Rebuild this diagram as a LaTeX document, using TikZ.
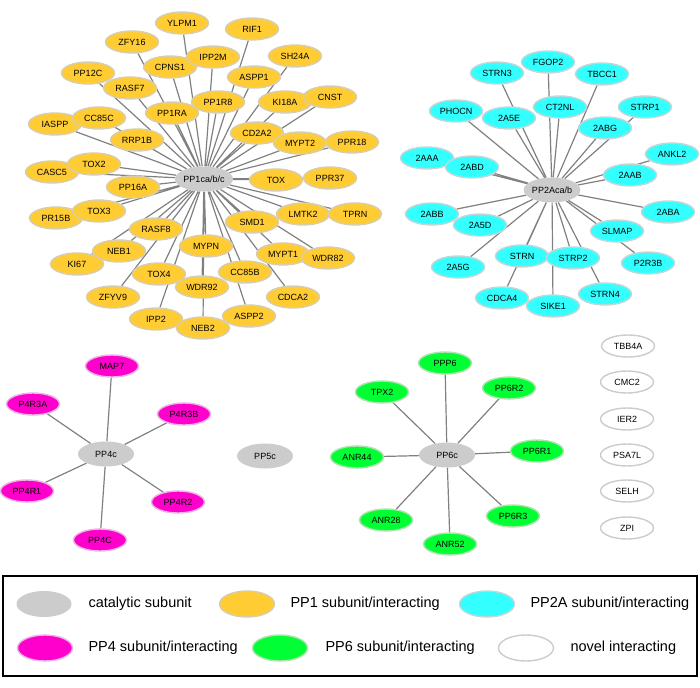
\documentclass[tikz,border=0pt]{standalone}
\usepackage{fontspec}
\setmainfont{Liberation Sans}
\usetikzlibrary{shapes.geometric,backgrounds}

\definecolor{catgray}{RGB}{204,204,204}
\definecolor{oneorange}{RGB}{255,204,51}
\definecolor{oneline}{RGB}{214,206,178}
\definecolor{twocyan}{RGB}{51,255,255}
\definecolor{twoline}{RGB}{196,214,214}
\definecolor{fourpink}{RGB}{255,0,204}
\definecolor{fourline}{RGB}{234,180,228}
\definecolor{sixgreen}{RGB}{0,255,51}
\definecolor{sixline}{RGB}{178,226,178}
\definecolor{novelline}{RGB}{204,204,204}
\definecolor{linkgray}{RGB}{128,128,128}

\tikzset{
  catbox/.style={ellipse, fill=catgray, minimum width=56pt, minimum height=25pt, inner sep=0pt},
  onebox/.style={ellipse, draw=oneline, fill=oneorange, line width=1.4pt, minimum width=53pt, minimum height=22pt, inner sep=0pt},
  twobox/.style={onebox, draw=twoline, fill=twocyan},
  fourbox/.style={onebox, draw=fourline, fill=fourpink},
  sixbox/.style={onebox, draw=sixline, fill=sixgreen},
  novelbox/.style={onebox, draw=novelline, fill=white},
  link/.style={draw=linkgray, line width=1.2pt},
  keytext/.style={anchor=west, font=\fontsize{14.5}{16}\selectfont}
}

\begin{document}
\begin{tikzpicture}[x=1pt, y=-1pt, every node/.style={font=\fontsize{9}{10}\selectfont}]
    \useasboundingbox (0,0) rectangle (700,687);

    % PP1 cluster
    \node[catbox] (pp1cat) at (204,179) {PP1ca/b/c};
    \node[onebox] (ylpm1) at (182,23) {YLPM1};
    \node[onebox] (rif1) at (252,29) {RIF1};
    \node[onebox] (zfy16) at (132,42) {ZFY16};
    \node[onebox] (sh24a) at (295,56) {SH24A};
    \node[onebox] (pp12c) at (88,73) {PP12C};
    \node[onebox] (cpns1) at (170,67) {CPNS1};
    \node[onebox] (ipp2m) at (213,57) {IPP2M};
    \node[onebox] (aspp1) at (254,77) {ASPP1};
    \node[onebox] (rasf7) at (130,88) {RASF7};
    \node[onebox] (pp1ra) at (172,113) {PP1RA};
    \node[onebox] (pp1r8) at (218,102) {PP1R8};
    \node[onebox] (ki18a) at (285,102) {KI18A};
    \node[onebox] (cnst) at (330,97) {CNST};
    \node[onebox] (iaspp) at (55,124) {IASPP};
    \node[onebox] (cc85c) at (99,118) {CC85C};
    \node[onebox] (rrp1b) at (137,140) {RRP1B};
    \node[onebox] (cd2a2) at (257,133) {CD2A2};
    \node[onebox] (mypt2) at (300,143) {MYPT2};
    \node[onebox] (ppr18) at (352,142) {PPR18};
    \node[onebox] (casc5) at (52,172) {CASC5};
    \node[onebox] (tox2) at (94,164) {TOX2};
    \node[onebox] (pp16a) at (133,187) {PP16A};
    \node[onebox] (tox) at (276,180) {TOX};
    \node[onebox] (ppr37) at (330,178) {PPR37};
    \node[onebox] (pr15b) at (56,218) {PR15B};
    \node[onebox] (tox3) at (99,211) {TOX3};
    \node[onebox] (lmtk2) at (303,214) {LMTK2};
    \node[onebox] (tprn) at (355,214) {TPRN};
    \node[onebox] (smd1) at (252,222) {SMD1};
    \node[onebox] (rasf8) at (156,229) {RASF8};
    \node[onebox] (ki67) at (77,264) {KI67};
    \node[onebox] (neb1) at (119,251) {NEB1};
    \node[onebox] (mypn) at (206,246) {MYPN};
    \node[onebox] (mypt1) at (283,254) {MYPT1};
    \node[onebox] (wdr82) at (328,258) {WDR82};
    \node[onebox] (cc85b) at (245,272) {CC85B};
    \node[onebox] (tox4) at (159,274) {TOX4};
    \node[onebox] (wdr92) at (202,287) {WDR92};
    \node[onebox] (cdca2) at (293,297) {CDCA2};
    \node[onebox] (zfyv9) at (113,297) {ZFYV9};
    \node[onebox] (ipp2) at (156,319) {IPP2};
    \node[onebox] (aspp2) at (249,316) {ASPP2};
    \node[onebox] (neb2) at (203,328) {NEB2};

    % PP2A cluster
    \node[catbox] (pp2acat) at (552,190) {PP2Aca/b};
    \node[twobox] (fgop2) at (548,62) {FGOP2};
    \node[twobox] (strn3) at (497,73) {STRN3};
    \node[twobox] (tbcc1) at (602,74) {TBCC1};
    \node[twobox] (phocn) at (456,111) {PHOCN};
    \node[twobox] (n2a5e) at (509,118) {2A5E};
    \node[twobox] (ct2nl) at (560,107) {CT2NL};
    \node[twobox] (strp1) at (645,107) {STRP1};
    \node[twobox] (n2abg) at (605,128) {2ABG};
    \node[twobox] (n2aaa) at (427,158) {2AAA};
    \node[twobox] (n2abd) at (472,167) {2ABD};
    \node[twobox] (ankl2) at (672,154) {ANKL2};
    \node[twobox] (n2aab) at (630,175) {2AAB};
    \node[twobox] (n2abb) at (432,214) {2ABB};
    \node[twobox] (n2a5d) at (480,225) {2A5D};
    \node[twobox] (n2aba) at (668,212) {2ABA};
    \node[twobox] (slmap) at (617,231) {SLMAP};
    \node[twobox] (n2a5g) at (458,267) {2A5G};
    \node[twobox] (strn) at (522,256) {STRN};
    \node[twobox] (strp2) at (573,258) {STRP2};
    \node[twobox] (p2r3b) at (648,263) {P2R3B};
    \node[twobox] (cdca4) at (502,298) {CDCA4};
    \node[twobox] (strn4) at (605,294) {STRN4};
    \node[twobox] (sike1) at (553,306) {SIKE1};

    % PP4 and PP5
    \node[catbox] (pp4cat) at (106,454) {PP4c};
    \node[fourbox] (map7) at (112,366) {MAP7};
    \node[fourbox] (p4r3a) at (33,404) {P4R3A};
    \node[fourbox] (p4r3b) at (184,414) {P4R3B};
    \node[fourbox] (pp4r1) at (27,491) {PP4R1};
    \node[fourbox] (pp4r2) at (178,502) {PP4R2};
    \node[fourbox] (pp4c) at (100,540) {PP4C};
    \node[catbox] (pp5cat) at (265,456) {PP5c};

    % PP6 cluster
    \node[catbox] (pp6cat) at (447,455) {PP6c};
    \node[sixbox] (ppp6) at (445,363) {PPP6};
    \node[sixbox] (tpx2) at (382,392) {TPX2};
    \node[sixbox] (pp6r2) at (509,388) {PP6R2};
    \node[sixbox] (anr44) at (357,457) {ANR44};
    \node[sixbox] (pp6r1) at (537,451) {PP6R1};
    \node[sixbox] (anr28) at (386,520) {ANR28};
    \node[sixbox] (pp6r3) at (513,516) {PP6R3};
    \node[sixbox] (anr52) at (450,544) {ANR52};

    % novel ones, no links
    \node[novelbox] (tbb4a) at (628,346) {TBB4A};
    \node[novelbox] (cmc2) at (627,382) {CMC2};
    \node[novelbox] (ier2) at (627,419) {IER2};
    \node[novelbox] (psa7l) at (627,455) {PSA7L};
    \node[novelbox] (selh) at (627,491) {SELH};
    \node[novelbox] (zpi) at (627,528) {ZPI};

    % links go under the ellipses
    \begin{pgfonlayer}{background}
    \draw[link] (pp1cat) -- (ylpm1) (pp1cat) -- (rif1) (pp1cat) -- (zfy16) (pp1cat) -- (sh24a)
        (pp1cat) -- (pp12c) (pp1cat) -- (cpns1) (pp1cat) -- (ipp2m) (pp1cat) -- (aspp1)
        (pp1cat) -- (rasf7) (pp1cat) -- (pp1ra) (pp1cat) -- (pp1r8) (pp1cat) -- (ki18a)
        (pp1cat) -- (cnst) (pp1cat) -- (iaspp) (pp1cat) -- (cc85c) (pp1cat) -- (rrp1b)
        (pp1cat) -- (cd2a2) (pp1cat) -- (mypt2) (pp1cat) -- (ppr18) (pp1cat) -- (casc5)
        (pp1cat) -- (tox2) (pp1cat) -- (pp16a) (pp1cat) -- (tox) (pp1cat) -- (ppr37)
        (pp1cat) -- (pr15b) (pp1cat) -- (tox3) (pp1cat) -- (lmtk2) (pp1cat) -- (tprn)
        (pp1cat) -- (smd1) (pp1cat) -- (rasf8) (pp1cat) -- (ki67) (pp1cat) -- (neb1)
        (pp1cat) -- (mypn) (pp1cat) -- (mypt1) (pp1cat) -- (wdr82) (pp1cat) -- (cc85b)
        (pp1cat) -- (tox4) (pp1cat) -- (wdr92) (pp1cat) -- (cdca2) (pp1cat) -- (zfyv9)
        (pp1cat) -- (ipp2) (pp1cat) -- (aspp2) (pp1cat) -- (neb2);
    \draw[link] (pp2acat) -- (fgop2) (pp2acat) -- (strn3) (pp2acat) -- (tbcc1) (pp2acat) -- (phocn)
        (pp2acat) -- (n2a5e) (pp2acat) -- (ct2nl) (pp2acat) -- (strp1) (pp2acat) -- (n2abg)
        (pp2acat) -- (n2aaa) (pp2acat) -- (n2abd) (pp2acat) -- (ankl2) (pp2acat) -- (n2aab)
        (pp2acat) -- (n2abb) (pp2acat) -- (n2a5d) (pp2acat) -- (n2aba) (pp2acat) -- (slmap)
        (pp2acat) -- (n2a5g) (pp2acat) -- (strn) (pp2acat) -- (strp2) (pp2acat) -- (p2r3b)
        (pp2acat) -- (cdca4) (pp2acat) -- (strn4) (pp2acat) -- (sike1);
    \draw[link] (pp4cat) -- (map7) (pp4cat) -- (p4r3a) (pp4cat) -- (p4r3b)
        (pp4cat) -- (pp4r1) (pp4cat) -- (pp4r2) (pp4cat) -- (pp4c);
    \draw[link] (pp6cat) -- (ppp6) (pp6cat) -- (tpx2) (pp6cat) -- (pp6r2) (pp6cat) -- (anr44)
        (pp6cat) -- (pp6r1) (pp6cat) -- (anr28) (pp6cat) -- (pp6r3) (pp6cat) -- (anr52);
    \end{pgfonlayer}

    % Legend box
    \draw[line width=1.4pt] (3,576) rectangle (697,676);
    \node[catbox, minimum width=55pt, minimum height=26pt] (keycat) at (44,604) {};
    \node[keytext] (keycattext) at (85,604) {catalytic subunit};
    \node[onebox, minimum width=55pt, minimum height=26pt] (keyone) at (247,604) {};
    \node[keytext] (keyonetext) at (287,604) {PP1 subunit/interacting};
    \node[twobox, minimum width=55pt, minimum height=26pt] (keytwo) at (487,604) {};
    \node[keytext] (keytwotext) at (527,604) {PP2A subunit/interacting};
    \node[fourbox, minimum width=55pt, minimum height=26pt] (keyfour) at (45,648) {};
    \node[keytext] (keyfourtext) at (85,648) {PP4 subunit/interacting};
    \node[sixbox, minimum width=55pt, minimum height=26pt] (keysix) at (280,648) {};
    \node[keytext] (keysixtext) at (322,648) {PP6 subunit/interacting};
    \node[novelbox, minimum width=55pt, minimum height=26pt] (keynovel) at (526,648) {};
    \node[keytext] (keyneweltext) at (567,648) {novel interacting};
\end{tikzpicture}
\end{document}
